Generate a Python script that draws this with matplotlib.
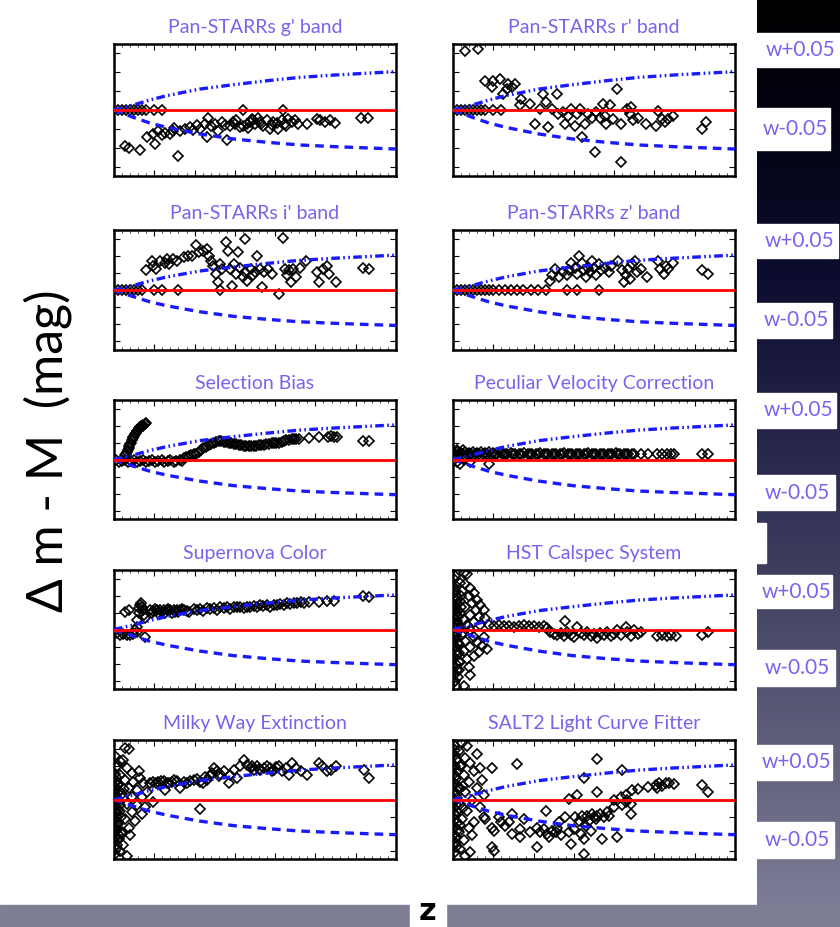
import numpy as np
import matplotlib
matplotlib.use('Agg')
import matplotlib.pyplot as plt
from matplotlib.patches import Rectangle
from matplotlib.colors import LinearSegmentedColormap
from matplotlib.ticker import MultipleLocator

plt.rcParams['font.family'] = ['Lato', 'DejaVu Sans']

# theory curves (w +/- 0.05), same in every panel
curve_z = [0.0, 0.048, 0.089, 0.131, 0.172, 0.213, 0.296, 0.379, 0.461, 0.544, 0.627, 0.70]
curve_wp = [0.0, 0.0053, 0.0106, 0.0152, 0.0187, 0.0222, 0.0268, 0.031, 0.0346, 0.037, 0.039, 0.0407]
curve_wm = [0.0, -0.0078, -0.0138, -0.0184, -0.0219, -0.0254, -0.0307, -0.0342, -0.0371, -0.0388, -0.0402, -0.0414]

# Pan-STARRs g'
g_z = [0.01, 0.02, 0.03, 0.04, 0.05, 0.06, 0.07, 0.08, 0.10, 0.12, 0.32, 0.42,
       0.027, 0.036, 0.065, 0.160, 0.081, 0.098, 0.102, 0.118, 0.127, 0.139, 0.147, 0.164,
       0.176, 0.189, 0.205, 0.213, 0.230, 0.234, 0.242, 0.251, 0.259, 0.267, 0.280, 0.288,
       0.296, 0.304, 0.313, 0.321, 0.329, 0.337, 0.342, 0.350, 0.358, 0.362, 0.370, 0.379,
       0.387, 0.395, 0.408, 0.416, 0.424, 0.433, 0.441, 0.449, 0.457, 0.478, 0.503, 0.511,
       0.523, 0.536, 0.548, 0.614, 0.631,
       0.110, 0.150, 0.195, 0.225, 0.275, 0.300, 0.333, 0.346, 0.366, 0.391, 0.404, 0.428]
g_dm = [0, 0, 0, 0, 0, 0, 0, 0, 0, 0, 0, 0,
        -0.038, -0.040, -0.042, -0.049, -0.029, -0.025, -0.036, -0.027, -0.024, -0.025, -0.022, -0.022,
        -0.020, -0.018, -0.016, -0.020, -0.029, -0.009, -0.017, -0.015, -0.022, -0.013, -0.032, -0.017,
        -0.013, -0.011, -0.018, -0.017, -0.015, -0.013, -0.010, -0.015, -0.008, -0.013, -0.017, -0.011,
        -0.020, -0.013, -0.020, -0.011, -0.015, -0.010, -0.013, -0.011, -0.015, -0.015, -0.010, -0.011,
        -0.013, -0.011, -0.014, -0.008, -0.009,
        -0.022, -0.019, -0.021, -0.015, -0.016, -0.015, -0.019, -0.011, -0.015, -0.016, -0.014, -0.017]

# Pan-STARRs r'
r_z = [0.01, 0.02, 0.03, 0.04, 0.05, 0.06, 0.07, 0.08, 0.10, 0.12,
       0.030, 0.063, 0.079, 0.096, 0.100, 0.117, 0.125, 0.133, 0.137, 0.146, 0.154, 0.170,
       0.166, 0.191, 0.203, 0.216, 0.224, 0.232, 0.237, 0.245, 0.257, 0.261, 0.274, 0.278,
       0.286, 0.294, 0.303, 0.307, 0.319, 0.315, 0.327, 0.336, 0.344, 0.352, 0.356, 0.365,
       0.373, 0.377, 0.381, 0.390, 0.398, 0.406, 0.418, 0.418, 0.431, 0.439, 0.443, 0.447,
       0.460, 0.480, 0.505, 0.509, 0.518, 0.526, 0.534, 0.547, 0.617, 0.629]
r_dm = [0, 0, 0, 0, 0, 0, 0, 0, 0, 0,
        0.063, 0.065, 0.031, 0.024, 0.031, 0.033, 0.017, 0.022, 0.028, 0.024, 0.028, 0.012,
        0.005, 0.006, -0.015, 0.001, 0.017, 0.008, -0.018, 0.001, 0.017, -0.004, -0.002, -0.015,
        -0.006, 0.001, -0.017, -0.004, -0.029, 0.001, -0.015, -0.004, -0.008, -0.045, -0.002, -0.008,
        0.006, -0.006, -0.015, 0.005, -0.010, 0.022, -0.015, -0.055, 0.001, -0.004, 0.003, -0.011,
        -0.008, -0.015, -0.017, -0.001, -0.010, -0.013, -0.010, -0.006, -0.020, -0.013]

# Pan-STARRs i'
i_z = [0.01, 0.02, 0.03, 0.04, 0.05, 0.06, 0.07, 0.10, 0.12, 0.16, 0.262,
       0.079, 0.094, 0.097, 0.105, 0.115, 0.126, 0.131, 0.136, 0.147, 0.157, 0.173, 0.183,
       0.194, 0.204, 0.210, 0.220, 0.231, 0.236, 0.241, 0.246, 0.252, 0.257, 0.262, 0.267,
       0.278, 0.283, 0.288, 0.294, 0.299, 0.304, 0.309, 0.314, 0.320, 0.325, 0.325, 0.330,
       0.341, 0.346, 0.351, 0.356, 0.362, 0.367, 0.372, 0.383, 0.393, 0.409, 0.419, 0.424,
       0.430, 0.435, 0.440, 0.445, 0.451, 0.461, 0.477, 0.503, 0.508, 0.519, 0.529, 0.534,
       0.550, 0.618, 0.634]
i_dm = [0, 0, 0, 0, 0, 0, 0, 0, 0, 0, 0,
        0.023, 0.034, 0.028, 0.025, 0.034, 0.032, 0.036, 0.030, 0.036, 0.034, 0.038, 0.040,
        0.040, 0.052, 0.044, 0.046, 0.048, 0.040, 0.034, 0.028, 0.019, 0.009, 0.030, 0.025,
        0.056, 0.046, 0.025, 0.005, 0.030, 0.019, 0.044, 0.026, 0.015, 0.060, 0.021, 0.011,
        0.025, 0.017, 0.021, 0.040, 0.025, 0.003, 0.021, 0.025, 0.019, -0.005, 0.061, 0.025,
        0.017, 0.023, 0.009, 0.025, 0.015, 0.026, 0.034, 0.021, 0.009, 0.025, 0.028, 0.019,
        0.009, 0.026, 0.025]

# Pan-STARRs z'
zb_z = [0.01, 0.02, 0.03, 0.04, 0.05, 0.06, 0.07, 0.08, 0.09, 0.10, 0.115, 0.13, 0.145,
        0.16, 0.173, 0.194, 0.21, 0.23, 0.283, 0.309, 0.362,
        0.241, 0.246, 0.252, 0.262, 0.272, 0.283, 0.288, 0.293, 0.304, 0.309, 0.314, 0.320,
        0.325, 0.330, 0.335, 0.341, 0.346, 0.351, 0.356, 0.362, 0.367, 0.377, 0.388, 0.393,
        0.409, 0.419, 0.424, 0.430, 0.435, 0.440, 0.445, 0.451, 0.456, 0.466, 0.482, 0.508,
        0.513, 0.524, 0.529, 0.534, 0.545, 0.618, 0.634]
zb_dm = [0, 0, 0, 0, 0, 0, 0, 0, 0, 0, 0, 0, 0,
         0, 0, 0, 0, 0, 0, 0, 0,
         0.011, 0.017, 0.025, 0.015, 0.021, 0.017, 0.023, 0.032, 0.026, 0.019, 0.040, 0.032,
         0.023, 0.015, 0.026, 0.021, 0.034, 0.026, 0.017, 0.030, 0.023, 0.026, 0.021, 0.028,
         0.034, 0.023, 0.009, 0.017, 0.025, 0.013, 0.030, 0.034, 0.021, 0.025, 0.015, 0.034,
         0.025, 0.019, 0.028, 0.025, 0.032, 0.023, 0.019]

# Selection Bias
sb_z = [0.005, 0.012, 0.020, 0.028, 0.035, 0.043, 0.050, 0.058, 0.065, 0.073, 0.080, 0.088,
        0.095, 0.103, 0.110, 0.118, 0.125, 0.133, 0.140, 0.148, 0.155, 0.163, 0.170,
        0.027, 0.030, 0.032, 0.034, 0.036, 0.038, 0.040, 0.042, 0.044, 0.046, 0.048, 0.050,
        0.052, 0.054, 0.056, 0.058, 0.061, 0.063, 0.065, 0.067, 0.069, 0.071, 0.073, 0.076, 0.080,
        0.173, 0.179, 0.185, 0.191, 0.198, 0.204, 0.210, 0.216, 0.222, 0.228, 0.235, 0.241,
        0.247, 0.254, 0.260, 0.266, 0.272, 0.279, 0.285, 0.291, 0.297, 0.303, 0.310, 0.316,
        0.322, 0.328, 0.334, 0.341, 0.347, 0.353, 0.359, 0.366, 0.372, 0.378, 0.384, 0.391,
        0.397, 0.403, 0.409, 0.416, 0.422, 0.428, 0.434, 0.441, 0.447, 0.453, 0.459, 0.484,
        0.509, 0.530, 0.538, 0.546, 0.554, 0.617, 0.633]
sb_dm = [-0.001, -0.003, -0.002, -0.001, -0.003, -0.002, -0.001, -0.003, -0.002, -0.001, -0.003, -0.002,
         -0.001, -0.003, -0.002, -0.001, -0.003, -0.002, -0.001, -0.003, -0.002, -0.001, -0.002,
         0.005, 0.007, 0.009, 0.011, 0.013, 0.016, 0.018, 0.020, 0.023, 0.025, 0.027, 0.028,
         0.030, 0.031, 0.033, 0.034, 0.036, 0.037, 0.038, 0.039, 0.040, 0.040, 0.041, 0.042, 0.043,
         0.002, 0.003, 0.004, 0.005, 0.006, 0.007, 0.009, 0.011, 0.013, 0.015, 0.017, 0.018,
         0.020, 0.021, 0.022, 0.022, 0.021, 0.021, 0.020, 0.019, 0.018, 0.018, 0.017, 0.017,
         0.016, 0.016, 0.016, 0.016, 0.016, 0.016, 0.017, 0.017, 0.017, 0.018, 0.018, 0.019,
         0.019, 0.020, 0.020, 0.021, 0.022, 0.023, 0.023, 0.024, 0.024, 0.024, 0.024, 0.025,
         0.026, 0.027, 0.028, 0.027, 0.026, 0.022, 0.022]

# Peculiar Velocity Correction
pv_z = [0.003, 0.008, 0.010, 0.015, 0.020, 0.025, 0.030, 0.035, 0.040, 0.045, 0.050, 0.055,
        0.060, 0.065, 0.070, 0.075, 0.080, 0.085, 0.090, 0.095, 0.100, 0.105, 0.110, 0.118,
        0.125, 0.135, 0.145, 0.155, 0.165, 0.175, 0.185, 0.195, 0.205, 0.215, 0.225, 0.235,
        0.245, 0.255, 0.265, 0.275, 0.285, 0.295, 0.305, 0.315, 0.325, 0.335, 0.345, 0.355,
        0.365, 0.375, 0.385, 0.395, 0.405, 0.415, 0.425, 0.435, 0.445, 0.466, 0.483, 0.507,
        0.520, 0.532, 0.541, 0.549, 0.619, 0.632,
        0.010, 0.018, 0.027, 0.043, 0.089, 0.010, 0.025, 0.050,
        0.130, 0.150, 0.170, 0.190, 0.210, 0.230, 0.250, 0.270, 0.290, 0.310, 0.330, 0.350,
        0.370, 0.390, 0.410, 0.430, 0.450]
pv_dm = [0.007, 0.005, 0.009, 0.006, 0.008, 0.007, 0.009, 0.006, 0.008, 0.007, 0.009, 0.006,
         0.008, 0.007, 0.009, 0.006, 0.008, 0.007, 0.009, 0.006, 0.008, 0.007, 0.007, 0.008,
         0.007, 0.007, 0.008, 0.007, 0.007, 0.008, 0.007, 0.007, 0.007, 0.008, 0.007, 0.007,
         0.007, 0.007, 0.007, 0.008, 0.007, 0.007, 0.007, 0.007, 0.007, 0.008, 0.007, 0.007,
         0.007, 0.007, 0.007, 0.007, 0.008, 0.007, 0.007, 0.007, 0.007, 0.007, 0.007, 0.007,
         0.007, 0.007, 0.007, 0.007, 0.007, 0.007,
         -0.003, -0.005, -0.001, -0.003, -0.005, 0.011, 0.011, 0.004,
         0.006, 0.006, 0.006, 0.006, 0.006, 0.006, 0.006, 0.006, 0.006, 0.006, 0.006, 0.006,
         0.006, 0.006, 0.006, 0.006, 0.006]

# Supernova Color
sc_z = [0.007, 0.015, 0.023, 0.032, 0.040, 0.048, 0.056, 0.077, 0.027, 0.036,
        0.052, 0.056, 0.058, 0.061, 0.063, 0.065, 0.066, 0.069, 0.071, 0.075, 0.077,
        0.090, 0.098, 0.106, 0.115, 0.123, 0.131, 0.139, 0.148, 0.156, 0.164, 0.173, 0.198,
        0.214, 0.231, 0.247, 0.264, 0.281, 0.297, 0.314, 0.330, 0.347, 0.363, 0.380, 0.397,
        0.413, 0.430, 0.446, 0.463, 0.484, 0.509, 0.529, 0.546, 0.617, 0.633,
        0.094, 0.110, 0.127, 0.143, 0.160, 0.185, 0.222, 0.256, 0.289, 0.322, 0.355, 0.388,
        0.102, 0.119, 0.135, 0.152, 0.168, 0.180, 0.206, 0.239, 0.272, 0.305, 0.338, 0.371,
        0.405, 0.421, 0.438, 0.455, 0.472]
sc_dm = [-0.004, -0.006, -0.005, -0.007, -0.006, -0.005, -0.003, -0.009, 0.021, 0.023,
         -0.001, 0.003, 0.011, 0.019, 0.025, 0.029, 0.031, 0.027, 0.023, 0.017, 0.013,
         0.023, 0.022, 0.023, 0.023, 0.023, 0.023, 0.023, 0.023, 0.023, 0.023, 0.023, 0.024,
         0.024, 0.025, 0.025, 0.026, 0.026, 0.027, 0.027, 0.027, 0.028, 0.029, 0.029, 0.029,
         0.030, 0.031, 0.031, 0.032, 0.032, 0.032, 0.033, 0.033, 0.039, 0.038,
         0.019, 0.020, 0.020, 0.020, 0.021, 0.021, 0.022, 0.023, 0.024, 0.025, 0.026, 0.026,
         0.024, 0.021, 0.024, 0.021, 0.024, 0.022, 0.023, 0.024, 0.025, 0.026, 0.027, 0.028,
         0.029, 0.029, 0.030, 0.031, 0.031]

# HST Calspec System
hst_z = [0.027, 0.035, 0.018, 0.031, 0.043, 0.022, 0.051, 0.039, 0.060, 0.018, 0.047, 0.068,
         0.031, 0.056, 0.076, 0.018, 0.043, 0.064, 0.080, 0.027, 0.051, 0.010, 0.035, 0.068,
         0.014, 0.043, 0.022, 0.051, 0.076, 0.031, 0.060, 0.014, 0.072, 0.043, 0.085, 0.027,
         0.064, 0.010, 0.051, 0.035, 0.018, 0.039, 0.014, 0.043, 0.027, 0.006, 0.006, 0.006,
         0.006, 0.008, 0.010, 0.003, 0.012, 0.007, 0.005,
         0.089, 0.101, 0.114, 0.126, 0.138, 0.151, 0.163, 0.176, 0.188, 0.201, 0.213, 0.225,
         0.234,
         0.242, 0.250, 0.259, 0.267, 0.275, 0.284, 0.292, 0.300, 0.308, 0.279, 0.317, 0.325,
         0.333, 0.342, 0.350, 0.358, 0.366, 0.375, 0.383, 0.391, 0.400, 0.408, 0.416, 0.429,
         0.433, 0.441, 0.449, 0.458, 0.466, 0.507, 0.520, 0.532, 0.541, 0.553, 0.619, 0.632]
hst_dm = [0.067, 0.065, 0.055, 0.053, 0.049, 0.045, 0.043, 0.039, 0.035, 0.033, 0.031, 0.029,
          0.027, 0.023, 0.023, 0.019, 0.017, 0.015, 0.013, 0.011, 0.009, 0.007, 0.005, 0.005,
          -0.001, -0.001, -0.007, -0.009, -0.009, -0.013, -0.015, -0.017, -0.019, -0.021, -0.023, -0.025,
          -0.027, -0.029, -0.031, -0.035, -0.038, -0.044, -0.048, -0.054, -0.066, -0.060, 0.023, -0.009,
          0.047, -0.040, 0.035, 0.003, 0.015, -0.021, 0.063,
          0.005, 0.004, 0.005, 0.004, 0.004, 0.003, 0.004, 0.005, 0.004, 0.004, 0.003, 0.004,
          0.002,
          -0.003, -0.005, -0.007, -0.004, -0.008, -0.003, -0.006, -0.009, 0.003, 0.010, -0.004, -0.007,
          -0.003, -0.008, -0.005, -0.010, -0.004, -0.007, -0.003, -0.008, -0.005, -0.001, -0.007, 0.003,
          -0.003, -0.008, -0.001, -0.005, -0.003, -0.008, -0.006, -0.008, -0.007, -0.008, -0.006, -0.003]
# low-z core of the HST cloud
hst_core_z = [0.003, 0.005, 0.004, 0.008, 0.006, 0.010, 0.004, 0.012, 0.007, 0.003, 0.009, 0.005,
              0.011, 0.004, 0.008, 0.006, 0.013, 0.003, 0.007, 0.010, 0.005, 0.015, 0.004, 0.009,
              0.006, 0.012, 0.003, 0.008, 0.020, 0.024, 0.016, 0.021]
hst_core_dm = [0.060, 0.052, 0.044, 0.040, 0.036, 0.030, 0.026, 0.022, 0.018, 0.014, 0.010, 0.006,
               0.002, -0.004, -0.006, -0.012, -0.016, -0.020, -0.026, -0.030, -0.034, -0.038, -0.044, -0.048,
               -0.052, -0.056, -0.062, -0.066, 0.026, -0.004, -0.028, 0.040]

# Milky Way Extinction
mw_z = [0.027, 0.036, 0.015, 0.023, 0.007, 0.032, 0.061, 0.044, 0.015, 0.065, 0.027, 0.048,
        0.073, 0.011, 0.036, 0.056, 0.081, 0.019, 0.044, 0.069, 0.007, 0.032, 0.056, 0.077,
        0.098, 0.015, 0.044, 0.069, 0.027, 0.052, 0.011, 0.036, 0.019, 0.040, 0.007, 0.023,
        0.015, 0.032, 0.002, 0.002, 0.002, 0.005, 0.003,
        0.090, 0.098, 0.110, 0.123, 0.127, 0.131, 0.144, 0.156, 0.164, 0.173, 0.189, 0.198,
        0.206, 0.214, 0.214, 0.222, 0.231, 0.239, 0.247, 0.256, 0.264, 0.272, 0.285, 0.289,
        0.297, 0.305, 0.314, 0.322, 0.330, 0.339, 0.347, 0.355, 0.363, 0.372, 0.380, 0.388,
        0.397, 0.409, 0.417, 0.426, 0.434, 0.442, 0.451, 0.463, 0.480, 0.509, 0.517, 0.529,
        0.538, 0.550, 0.621, 0.633,
        0.104, 0.117, 0.137, 0.150, 0.181, 0.226, 0.243, 0.260, 0.343, 0.359, 0.393, 0.402]
mw_dm = [0.061, 0.059, 0.045, 0.047, 0.039, 0.037, 0.034, 0.031, 0.029, 0.025, 0.023, 0.021,
         0.019, 0.017, 0.013, 0.011, 0.009, 0.007, 0.003, 0.003, -0.003, -0.005, -0.007, -0.009,
         -0.003, -0.013, -0.015, -0.017, -0.023, -0.025, -0.029, -0.033, -0.038, -0.042, -0.048, -0.054,
         -0.060, -0.066, -0.064, 0.019, -0.013, -0.037, 0.051,
         0.020, 0.021, 0.021, 0.022, 0.011, 0.020, 0.021, 0.022, 0.013, 0.021, 0.022, 0.023,
         0.024, 0.021, -0.011, 0.019, 0.023, 0.028, 0.037, 0.033, 0.030, 0.033, 0.019, 0.029,
         0.035, 0.025, 0.039, 0.046, 0.041, 0.037, 0.035, 0.039, 0.035, 0.037, 0.039, 0.037,
         0.035, 0.039, 0.033, 0.037, 0.029, 0.043, 0.037, 0.033, 0.029, 0.043, 0.039, 0.033,
         0.035, 0.040, 0.035, 0.025,
         0.019, 0.022, 0.019, 0.023, 0.020, 0.026, 0.031, 0.028, 0.040, 0.036, 0.034, 0.038]
mw_core_z = [0.003, 0.006, 0.004, 0.009, 0.005, 0.012, 0.003, 0.008, 0.006, 0.014, 0.004, 0.010,
             0.005, 0.007, 0.003, 0.011, 0.006, 0.004, 0.009, 0.005, 0.013, 0.003, 0.007, 0.004,
             0.018, 0.022, 0.020, 0.026]
mw_core_dm = [0.030, 0.026, 0.022, 0.018, 0.014, 0.010, 0.006, 0.002, -0.002, -0.006, -0.008, -0.012,
              -0.016, -0.020, -0.024, -0.026, -0.030, -0.034, -0.040, -0.044, -0.046, -0.050, -0.054, -0.058,
              -0.020, 0.002, -0.040, 0.012]

# SALT2 Light Curve Fitter
s2_z = [0.022, 0.035, 0.014, 0.031, 0.060, 0.043, 0.018, 0.068, 0.051, 0.027, 0.072, 0.039,
        0.014, 0.060, 0.031, 0.076, 0.047, 0.018, 0.068, 0.035, 0.076, 0.022, 0.051, 0.039,
        0.014, 0.047, 0.027, 0.043, 0.018, 0.031, 0.006, 0.006, 0.006, 0.008, 0.010,
        0.097, 0.159, 0.358, 0.420, 0.325, 0.288, 0.308, 0.358, 0.400, 0.416, 0.429, 0.433,
        0.441, 0.445, 0.458, 0.483, 0.503, 0.507, 0.512, 0.520, 0.528, 0.536, 0.549, 0.619, 0.632,
        0.080, 0.097, 0.101, 0.114, 0.118, 0.130, 0.138, 0.147, 0.147, 0.167, 0.167, 0.176,
        0.192, 0.209, 0.209, 0.217, 0.226, 0.230, 0.234, 0.238, 0.246, 0.255, 0.259, 0.263,
        0.267, 0.279, 0.288, 0.292, 0.300, 0.304, 0.313, 0.317, 0.321, 0.325, 0.325, 0.329,
        0.333, 0.337, 0.342, 0.346, 0.350, 0.354, 0.358, 0.366, 0.371, 0.375, 0.383, 0.387,
        0.400, 0.408, 0.420, 0.429, 0.441, 0.097, 0.101]
s2_dm = [0.067, 0.063, 0.057, 0.049, 0.053, 0.043, 0.039, 0.037, 0.033, 0.029, 0.023, 0.021,
         0.015, 0.013, 0.009, 0.005, -0.001, -0.005, -0.009, -0.013, -0.021, -0.023, -0.027, -0.033,
         -0.038, -0.042, -0.048, -0.062, -0.058, -0.066, -0.052, 0.027, -0.017, 0.047, 0.007,
         0.037, 0.042, 0.048, 0.035, 0.025, 0.001, 0.005, 0.009, 0.000, 0.003, 0.005, -0.001,
         -0.005, 0.011, 0.012, 0.015, 0.017, 0.013, 0.020, 0.016, 0.019, 0.020, 0.018, 0.017, 0.009,
         -0.023, -0.033, -0.037, -0.021, -0.027, -0.031, -0.027, -0.017, -0.040, -0.035, -0.044, -0.023,
         -0.038, -0.033, -0.056, -0.038, -0.035, -0.013, -0.040, -0.044, -0.037, -0.038, -0.033, -0.027,
         -0.042, -0.021, -0.038, -0.052, -0.035, -0.021, -0.025, -0.040, -0.019, -0.046, -0.064, -0.031,
         -0.019, -0.025, -0.037, -0.017, -0.021, -0.023, -0.019, -0.017, -0.046, -0.021, -0.015, -0.019,
         -0.009, -0.044, -0.007, -0.003, -0.017, -0.056, -0.060]
s2_core_z = [0.003, 0.006, 0.004, 0.009, 0.005, 0.012, 0.003, 0.008, 0.006, 0.014, 0.004, 0.010,
             0.005, 0.007, 0.003, 0.011, 0.006, 0.004, 0.009, 0.005, 0.013, 0.003, 0.007, 0.004,
             0.008, 0.005, 0.020, 0.024, 0.018, 0.026]
s2_core_dm = [0.064, 0.058, 0.052, 0.046, 0.040, 0.034, 0.030, 0.024, 0.018, 0.012, 0.008, 0.002,
              -0.002, -0.006, -0.010, -0.014, -0.018, -0.024, -0.028, -0.032, -0.036, -0.040, -0.044, -0.050,
              -0.056, -0.062, 0.040, 0.016, -0.030, -0.010]

titles = ["Pan-STARRs g' band", "Pan-STARRs r' band",
          "Pan-STARRs i' band", "Pan-STARRs z' band",
          "Selection Bias", "Peculiar Velocity Correction",
          "Supernova Color", "HST Calspec System",
          "Milky Way Extinction", "SALT2 Light Curve Fitter"]
series = [(g_z, g_dm), (r_z, r_dm), (i_z, i_dm), (zb_z, zb_dm), (sb_z, sb_dm),
          (pv_z, pv_dm), (sc_z, sc_dm),
          (hst_z + hst_core_z, hst_dm + hst_core_dm),
          (mw_z + mw_core_z, mw_dm + mw_core_dm),
          (s2_z + s2_core_z, s2_dm + s2_core_dm)]
band_labels = ['w+0.05', 'w-0.05']

W, H = 840, 927
TITLE_C = '#7763ee'

fig = plt.figure(figsize=(W / 100, H / 100), dpi=100)
fig.patch.set_facecolor('white')

# right dark gradient column
bg = fig.add_axes([757 / W, 0, 1 - 757 / W, 1], zorder=-5)
cmap = LinearSegmentedColormap.from_list(
    'slide', [(0, '#000000'), (0.12, '#020210'), (0.3, '#0d0d30'),
              (0.5, '#2a2a4e'), (0.7, '#4d4d6c'), (1, '#80809a')])
bg.imshow(np.linspace(0, 1, 256)[:, None], aspect='auto', cmap=cmap,
          extent=[0, 1, 1, 0])
bg.set_axis_off()

# bottom strip and z box
fig.patches.append(Rectangle((0, 0), 1, (H - 905) / H, transform=fig.transFigure,
                             color='#7e7e94', zorder=-4))
fig.patches.append(Rectangle((410 / W, 0), 36 / W, (H - 896) / H, transform=fig.transFigure,
                             color='white', zorder=-3))
fig.text(428 / W, (H - 911) / H, 'z', fontsize=22, fontweight='bold',
         ha='center', va='center', family=['DejaVu Sans'])

# label boxes on the right (top, bottom, right edge in px)
boxes = [(33, 67, 840), (108, 150, 830), (224, 258, 838), (303, 338, 832),
         (393, 428, 836), (475, 510, 835), (575, 608, 832), (650, 686, 835),
         (745, 780, 832), (822, 858, 834)]
for k, (t, b, r) in enumerate(boxes):
    fig.patches.append(Rectangle((757 / W, 1 - b / H), (r - 757) / W, (b - t) / H,
                                 transform=fig.transFigure, color='white', zorder=-3))
    fig.text((r + 757) / 2 / W + 0.002, 1 - (t + b) / 2 / H, band_labels[k % 2],
             fontsize=15, color=TITLE_C, ha='center', va='center')
fig.patches.append(Rectangle((757 / W, 1 - 563 / H), 9 / W, 40 / H,
                             transform=fig.transFigure, color='white', zorder=-3))

# panel grid (top, bottom px)
rows = [(44, 176), (230, 350), (400, 519), (570, 689), (740, 859)]
cols = [(114, 396), (453, 735)]

for n, ((zs, dms), title) in enumerate(zip(series, titles)):
    t, b = rows[n // 2]
    l, r = cols[n % 2]
    ax = fig.add_axes([l / W, 1 - b / H, (r - l) / W, (b - t) / H])
    ax.plot(zs, dms, linestyle='none', marker='D', ms=5.0, mfc='none',
            mec='black', mew=1.2, zorder=2)
    ax.plot(curve_z, curve_wp, color='#1a1aff', lw=2.4,
            linestyle=(0, (2.6, 1.0, 0.5, 1.0, 0.5, 1.0)), zorder=3)
    ax.plot(curve_z, curve_wm, color='#1a1aff', lw=2.4,
            linestyle=(0, (2.6, 1.8)), zorder=3)
    ax.axhline(0, color='red', lw=2.0, zorder=4)
    ax.set_xlim(0, 0.7)
    ax.set_ylim(-0.07, 0.07)
    ax.xaxis.set_major_locator(MultipleLocator(0.1))
    ax.xaxis.set_minor_locator(MultipleLocator(0.02))
    ax.yaxis.set_major_locator(MultipleLocator(0.02))
    ax.tick_params(which='both', direction='in', top=True, right=True,
                   labelbottom=False, labelleft=False)
    ax.tick_params(which='major', length=4, width=0.8)
    ax.tick_params(which='minor', length=2, width=0.5)
    for s in ax.spines.values():
        s.set_linewidth(1.8)
    ax.set_title(title, color=TITLE_C, fontsize=14, pad=8)

fig.text(48 / W, 1 - 451 / H, 'Δ m - M  (mag)', rotation=90, fontsize=36,
         ha='center', va='center', family=['Lato', 'DejaVu Sans'])

fig.savefig('out.png', dpi=100)
